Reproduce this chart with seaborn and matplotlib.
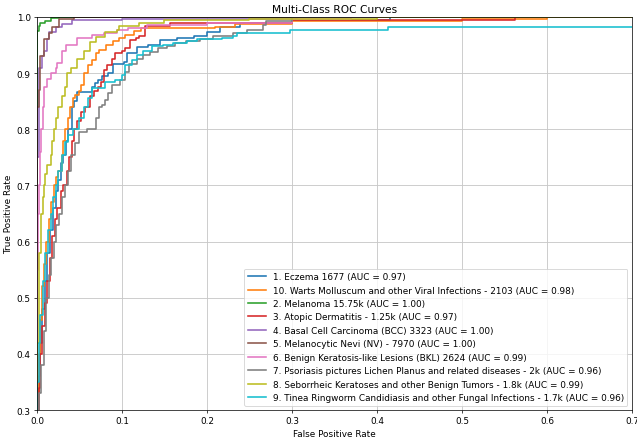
import pandas as pd
import matplotlib
matplotlib.use("Agg")
import matplotlib.pyplot as plt
import seaborn as sns

# ROC corner points (fpr, tpr), one list per class
eczema_points = [(0, 0), (0, 0.30), (0.002, 0.36), (0.004, 0.42), (0.006, 0.48), (0.009, 0.53),
                 (0.012, 0.58), (0.015, 0.62), (0.019, 0.66), (0.022, 0.69), (0.025, 0.71),
                 (0.028, 0.74), (0.031, 0.755), (0.034, 0.78), (0.037, 0.80), (0.041, 0.839),
                 (0.044, 0.85), (0.047, 0.866), (0.065, 0.876), (0.068, 0.882), (0.072, 0.888),
                 (0.076, 0.895), (0.084, 0.90), (0.090, 0.917), (0.102, 0.92), (0.106, 0.935),
                 (0.118, 0.947), (0.131, 0.95), (0.145, 0.959), (0.165, 0.962), (0.185, 0.967),
                 (0.200, 0.973), (0.215, 0.983), (0.239, 0.989), (0.300, 0.995), (0.415, 1.0), (1.0, 1.0)]
warts_points = [(0, 0), (0, 0.32), (0.002, 0.40), (0.004, 0.46), (0.006, 0.52), (0.008, 0.56),
                (0.011, 0.60), (0.014, 0.64), (0.017, 0.67), (0.020, 0.70), (0.022, 0.715),
                (0.025, 0.725), (0.029, 0.755), (0.031, 0.78), (0.033, 0.80), (0.036, 0.82),
                (0.039, 0.839), (0.042, 0.855), (0.045, 0.861), (0.049, 0.868), (0.052, 0.879),
                (0.055, 0.90), (0.060, 0.915), (0.065, 0.923), (0.070, 0.935), (0.073, 0.941),
                (0.081, 0.951), (0.090, 0.957), (0.096, 0.962), (0.104, 0.968), (0.114, 0.975),
                (0.122, 0.98), (0.210, 0.983), (0.233, 0.988), (0.300, 0.993), (0.500, 0.997),
                (0.600, 1.0), (1.0, 1.0)]
melanoma_points = [(0, 0), (0, 0.975), (0.003, 0.984), (0.004, 0.989), (0.010, 0.993),
                   (0.016, 0.998), (0.026, 1.0), (1.0, 1.0)]
atopic_points = [(0, 0), (0, 0.28), (0.002, 0.34), (0.004, 0.40), (0.006, 0.45), (0.009, 0.49),
                 (0.012, 0.53), (0.015, 0.57), (0.018, 0.61), (0.021, 0.64), (0.024, 0.66),
                 (0.028, 0.69), (0.031, 0.70), (0.035, 0.725), (0.038, 0.75), (0.041, 0.78),
                 (0.044, 0.80), (0.047, 0.815), (0.052, 0.83), (0.057, 0.839), (0.063, 0.86),
                 (0.067, 0.869), (0.072, 0.875), (0.075, 0.885), (0.079, 0.905), (0.082, 0.914),
                 (0.088, 0.925), (0.092, 0.935), (0.100, 0.94), (0.104, 0.944), (0.110, 0.959),
                 (0.116, 0.963), (0.120, 0.967), (0.127, 0.984), (0.157, 0.989), (0.300, 0.995),
                 (0.562, 1.0), (1.0, 1.0)]
bcc_points = [(0, 0), (0, 0.75), (0.002, 0.88), (0.003, 0.91), (0.006, 0.93), (0.008, 0.94),
              (0.012, 0.96), (0.014, 0.973), (0.022, 0.982), (0.029, 0.988), (0.041, 0.995),
              (0.1, 0.997), (0.306, 1.0), (1.0, 1.0)]
nv_points = [(0, 0), (0, 0.84), (0.002, 0.87), (0.004, 0.93), (0.008, 0.96), (0.014, 0.971),
             (0.018, 0.983), (0.026, 0.996), (0.044, 1.0), (1.0, 1.0)]
bkl_points = [(0, 0), (0, 0.55), (0.001, 0.65), (0.002, 0.70), (0.004, 0.76), (0.005, 0.80),
              (0.007, 0.84), (0.008, 0.875), (0.012, 0.89), (0.016, 0.90), (0.022, 0.91),
              (0.024, 0.918), (0.029, 0.94), (0.034, 0.951), (0.047, 0.963), (0.065, 0.968),
              (0.079, 0.971), (0.094, 0.977), (0.107, 0.98), (0.13, 0.985), (0.2, 0.99),
              (0.3, 0.996), (0.37, 1.0), (1.0, 1.0)]
psoriasis_points = [(0, 0), (0, 0.26), (0.003, 0.33), (0.005, 0.38), (0.008, 0.44), (0.011, 0.50),
                    (0.014, 0.54), (0.017, 0.57), (0.020, 0.60), (0.023, 0.63), (0.026, 0.65),
                    (0.029, 0.68), (0.033, 0.70), (0.036, 0.725), (0.040, 0.755), (0.045, 0.775),
                    (0.049, 0.796), (0.059, 0.80), (0.069, 0.82), (0.073, 0.839), (0.076, 0.843),
                    (0.080, 0.853), (0.084, 0.864), (0.088, 0.879), (0.098, 0.888), (0.104, 0.902),
                    (0.108, 0.917), (0.118, 0.926), (0.125, 0.932), (0.133, 0.938), (0.143, 0.944),
                    (0.153, 0.948), (0.163, 0.954), (0.175, 0.957), (0.192, 0.96), (0.207, 0.966),
                    (0.231, 0.971), (0.247, 0.977), (0.266, 0.985), (0.27, 0.993), (0.3, 1.0), (1.0, 1.0)]
seborrheic_points = [(0, 0), (0, 0.42), (0.002, 0.50), (0.003, 0.58), (0.005, 0.65), (0.007, 0.68),
                     (0.008, 0.70), (0.010, 0.72), (0.012, 0.737), (0.016, 0.755), (0.018, 0.78),
                     (0.020, 0.80), (0.023, 0.82), (0.025, 0.839), (0.029, 0.86), (0.033, 0.875),
                     (0.035, 0.90), (0.040, 0.91), (0.047, 0.925), (0.055, 0.94), (0.063, 0.956),
                     (0.070, 0.965), (0.080, 0.973), (0.094, 0.976), (0.096, 0.984), (0.120, 0.989),
                     (0.15, 0.995), (0.25, 0.997), (0.4, 1.0), (1.0, 1.0)]
tinea_points = [(0, 0), (0, 0.35), (0.002, 0.42), (0.004, 0.47), (0.007, 0.53), (0.010, 0.58),
                (0.013, 0.62), (0.016, 0.65), (0.019, 0.68), (0.022, 0.70), (0.025, 0.725),
                (0.029, 0.755), (0.033, 0.777), (0.036, 0.79), (0.043, 0.80), (0.049, 0.82),
                (0.055, 0.839), (0.060, 0.855), (0.065, 0.873), (0.080, 0.885), (0.092, 0.888),
                (0.100, 0.896), (0.104, 0.914), (0.112, 0.924), (0.118, 0.932), (0.125, 0.940),
                (0.135, 0.948), (0.148, 0.950), (0.160, 0.954), (0.176, 0.957), (0.188, 0.960),
                (0.218, 0.962), (0.231, 0.966), (0.235, 0.971), (0.298, 0.977), (0.413, 0.983),
                (1.0, 1.0)]

class_names = [
    "1. Eczema 1677",
    "10. Warts Molluscum and other Viral Infections - 2103",
    "2. Melanoma 15.75k",
    "3. Atopic Dermatitis - 1.25k",
    "4. Basal Cell Carcinoma (BCC) 3323",
    "5. Melanocytic Nevi (NV) - 7970",
    "6. Benign Keratosis-like Lesions (BKL) 2624",
    "7. Psoriasis pictures Lichen Planus and related diseases - 2k",
    "8. Seborrheic Keratoses and other Benign Tumors - 1.8k",
    "9. Tinea Ringworm Candidiasis and other Fungal Infections - 1.7k",
]
auc_values = [0.97, 0.98, 1.00, 0.97, 1.00, 1.00, 0.99, 0.96, 0.99, 0.96]
curves = [eczema_points, warts_points, melanoma_points, atopic_points, bcc_points,
          nv_points, bkl_points, psoriasis_points, seborrheic_points, tinea_points]

colors = sns.color_palette("tab10", 10)

fig = plt.figure(figsize=(10, 6.97), dpi=63.7)
ax = fig.add_axes([0.058, 0.0743, 0.934, 0.8852])

for name, auc, pts, col in zip(class_names, auc_values, curves, colors):
    df = pd.DataFrame(pts, columns=["fpr", "tpr"])
    sns.lineplot(data=df, x="fpr", y="tpr", estimator=None, sort=False,
                 drawstyle="steps-post", color=col, linewidth=1.8,
                 label=f"{name} (AUC = {auc:.2f})", ax=ax)

ax.set_xlim(0, 0.7)
ax.set_ylim(0.3, 1.0)
ax.set_xlabel("False Positive Rate")
ax.set_ylabel("True Positive Rate")
ax.set_title("Multi-Class ROC Curves")
ax.grid(True, color="#c8c8c8", linewidth=1.0)
ax.legend(loc="lower right")

fig.savefig("out.png", dpi=63.7)
